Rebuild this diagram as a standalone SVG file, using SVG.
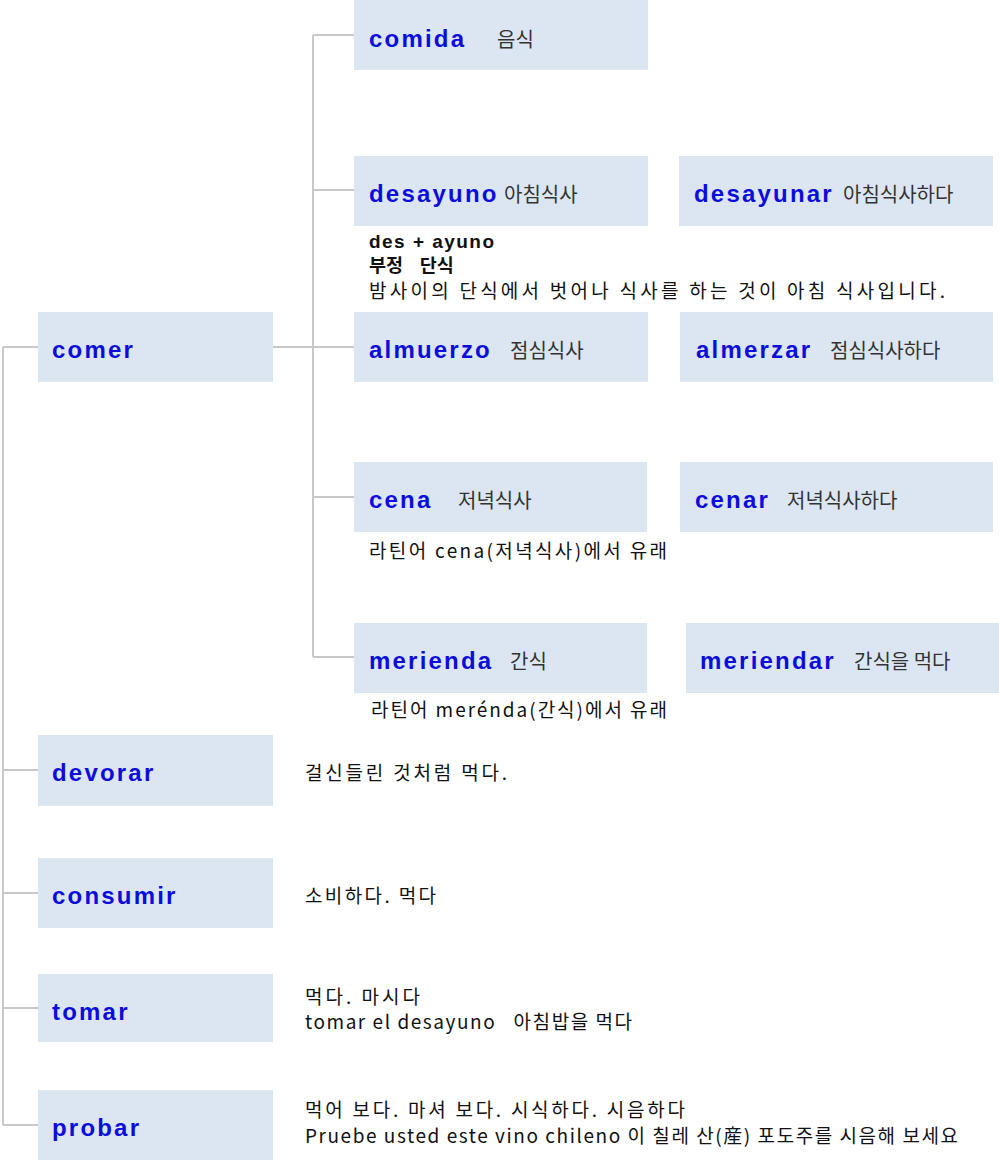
<svg xmlns="http://www.w3.org/2000/svg" width="999" height="1162" viewBox="0 0 999 1162">
<style>
.box{fill:#dce6f2;}
.w{font-family:"Liberation Sans",Arial,sans-serif;font-weight:bold;font-size:24px;letter-spacing:2.2px;fill:#0d0ddb;}
.k{font-family:"Noto Sans CJK KR",sans-serif;font-size:20px;fill:#333;}
.d{font-family:"Noto Sans CJK KR",sans-serif;font-size:19px;fill:#111;}
.b{font-family:"Noto Sans CJK KR",sans-serif;font-size:18.5px;font-weight:bold;fill:#111;}
.bl{font-family:"Liberation Sans",Arial,sans-serif;font-size:19px;font-weight:bold;fill:#111;}
.c{fill:none;stroke:#c8c8c8;stroke-width:2;}
</style>
<rect width="999" height="1162" fill="#fff"/>
<g id="connectors">
<path class="c" d="M3,347 V1125 M3,347 H38 M3,770 H38 M3,893 H38 M3,1008 H38 M3,1125 H38"/>
<path class="c" d="M273,347 H354 M313,35 V657 M313,35 H354 M313,190 H354 M313,497 H354 M313,657 H354"/>
</g>
<g id="comida"><rect class="box" x="354" y="0" width="294" height="70"/><text class="w" x="369" y="47">comida</text><text class="k" x="497" y="47">음식</text></g>
<g id="desayuno"><rect class="box" x="354" y="156" width="294" height="70"/><text class="w" x="369" y="202">desayuno</text><text class="k" x="504" y="202">아침식사</text>
<text class="bl" x="369" y="248" textLength="125">des + ayuno</text>
<text class="b" x="369" y="272" xml:space="preserve">부정    단식</text>
<text class="d" x="369" y="297.5" textLength="576">밤사이의 단식에서 벗어나 식사를 하는 것이 아침 식사입니다.</text></g>
<g id="desayunar"><rect class="box" x="679" y="156" width="314" height="70"/><text class="w" x="694" y="202">desayunar</text><text class="k" x="843" y="202">아침식사하다</text></g>
<g id="comer"><rect class="box" x="38" y="312" width="235" height="70"/><text class="w" x="52" y="358">comer</text></g>
<g id="almuerzo"><rect class="box" x="354" y="312" width="294" height="70"/><text class="w" x="369" y="358">almuerzo</text><text class="k" x="510" y="358">점심식사</text></g>
<g id="almerzar"><rect class="box" x="680" y="312" width="313" height="70"/><text class="w" x="696" y="358">almerzar</text><text class="k" x="830" y="358">점심식사하다</text></g>
<g id="cena"><rect class="box" x="354" y="462" width="293" height="70"/><text class="w" x="369" y="508">cena</text><text class="k" x="458" y="508">저녁식사</text>
<text class="d" x="369" y="558" textLength="298">라틴어 cena(저녁식사)에서 유래</text></g>
<g id="cenar"><rect class="box" x="680" y="462" width="313" height="70"/><text class="w" x="695" y="508">cenar</text><text class="k" x="787" y="508">저녁식사하다</text></g>
<g id="merienda"><rect class="box" x="354" y="623" width="293" height="70"/><text class="w" x="369" y="669">merienda</text><text class="k" x="510" y="669">간식</text>
<text class="d" x="371" y="717" textLength="296">라틴어 merénda(간식)에서 유래</text></g>
<g id="meriendar"><rect class="box" x="686" y="623" width="313" height="70"/><text class="w" x="700" y="669">meriendar</text><text class="k" x="854" y="669">간식을 먹다</text></g>
<g id="devorar"><rect class="box" x="38" y="735" width="235" height="71"/><text class="w" x="52" y="781">devorar</text>
<text class="d" x="305" y="780" textLength="202">걸신들린 것처럼 먹다.</text></g>
<g id="consumir"><rect class="box" x="38" y="858" width="235" height="70"/><text class="w" x="52" y="904">consumir</text>
<text class="d" x="305" y="903" textLength="131">소비하다. 먹다</text></g>
<g id="tomar"><rect class="box" x="38" y="974" width="235" height="68"/><text class="w" x="52" y="1020">tomar</text>
<text class="d" x="305" y="1003.5" textLength="115">먹다. 마시다</text>
<text class="d" x="305" y="1029" textLength="327" xml:space="preserve">tomar el desayuno   아침밥을 먹다</text></g>
<g id="probar"><rect class="box" x="38" y="1090" width="235" height="70"/><text class="w" x="52" y="1136">probar</text>
<text class="d" x="305" y="1116.5" textLength="380">먹어 보다. 마셔 보다. 시식하다. 시음하다</text>
<text class="d" x="305" y="1143" textLength="653">Pruebe usted este vino chileno 이 칠레 산(産) 포도주를 시음해 보세요</text></g>
</svg>
